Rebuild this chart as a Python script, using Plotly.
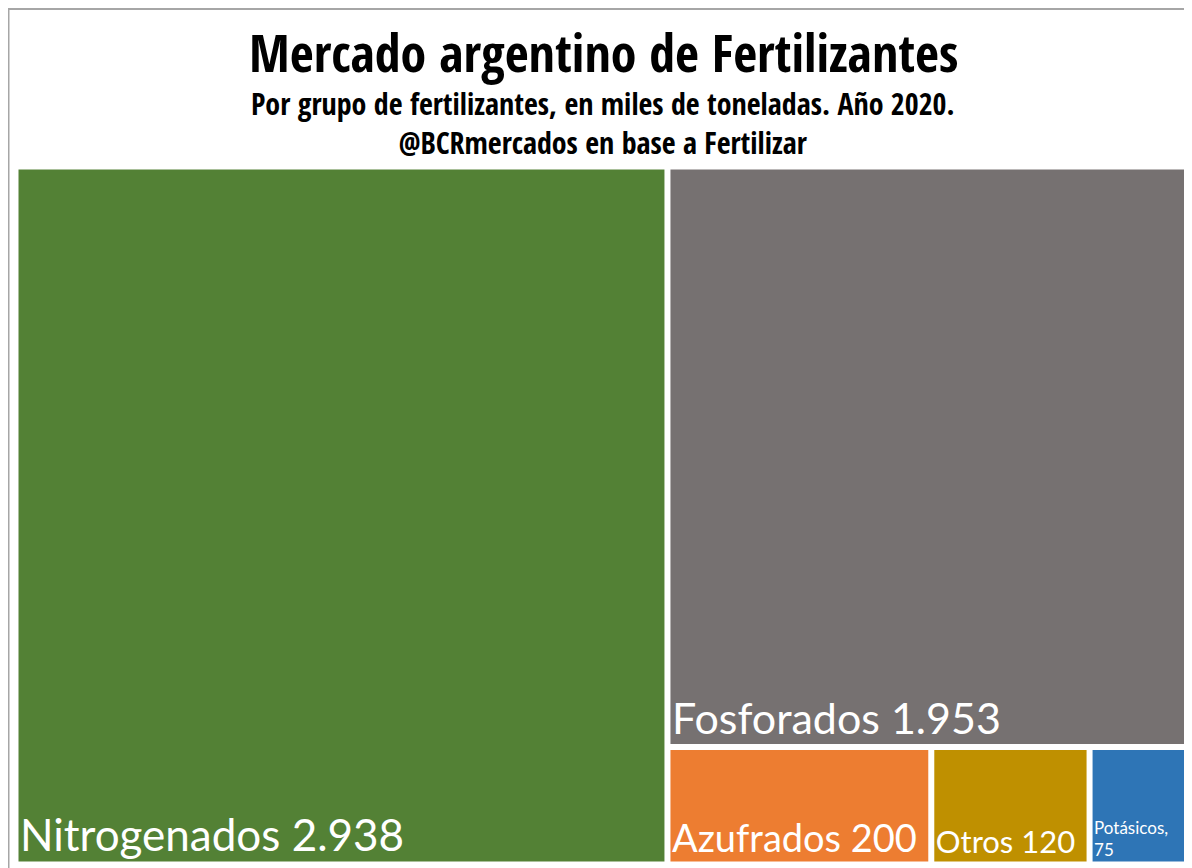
import plotly.graph_objects as go

categories = ["Nitrogenados", "Fosforados", "Azufrados", "Otros", "Potásicos"]
values = [2938, 1953, 200, 120, 75]
colors = ["#538135", "#767171", "#ED7D31", "#BF9000", "#2E75B6"]
font_sizes = [44, 43, 38, 31, 17]
separators = [" ", " ", " ", " ", ",<br>"]

def fmt(v):
    return f"{v:,}".replace(",", ".")

texts = [f"{c}{s}{fmt(v)}" for c, s, v in zip(categories, separators, values)]

W, H = 1192, 868
OFF = 8  # page body margin
fig = go.Figure(go.Treemap(
    labels=categories,
    parents=[""] * len(categories),
    values=values,
    text=texts,
    texttemplate="%{text}",
    textposition="bottom left",
    textfont=dict(family="Lato", color="white", size=font_sizes),
    marker=dict(colors=colors, line=dict(color="white", width=3),
                pad=dict(t=0, l=0, r=0, b=0)),
    pathbar=dict(visible=False),
    sort=True,
    hoverinfo="label+value",
    domain=dict(x=[(17 - OFF) / W, (1187 - OFF) / W],
                y=[1 - (863 - OFF) / H, 1 - (168 - OFF) / H]),
))

title_font = "Open Sans Condensed, Roboto Condensed, sans-serif"
fig.add_annotation(x=(603 - OFF) / W, y=1 - (51 - OFF) / H, xref="paper", yref="paper",
                   showarrow=False, text="<b>Mercado argentino de Fertilizantes</b>",
                   xanchor="center", yanchor="middle",
                   font=dict(family=title_font, size=52, color="black"))
fig.add_annotation(x=(603 - OFF) / W, y=1 - (123 - OFF) / H, xref="paper", yref="paper",
                   showarrow=False,
                   text="<b>Por grupo de fertilizantes, en miles de toneladas. Año 2020.</b><br>"
                        "<b>@BCRmercados en base a Fertilizar</b>",
                   xanchor="center", yanchor="middle",
                   font=dict(family=title_font, size=30, color="black"))

fig.add_shape(type="line", xref="paper", yref="paper", x0=0, x1=1, y0=1 - 1 / H, y1=1 - 1 / H,
              line=dict(color="#A6A6A6", width=2))
fig.add_shape(type="line", xref="paper", yref="paper", x0=0.5 / W, x1=0.5 / W, y0=0, y1=1,
              line=dict(color="#A6A6A6", width=2))

fig.update_layout(width=W, height=H, margin=dict(l=0, r=0, t=0, b=0),
                  paper_bgcolor="white", showlegend=False)
fig.write_html("out.html")
